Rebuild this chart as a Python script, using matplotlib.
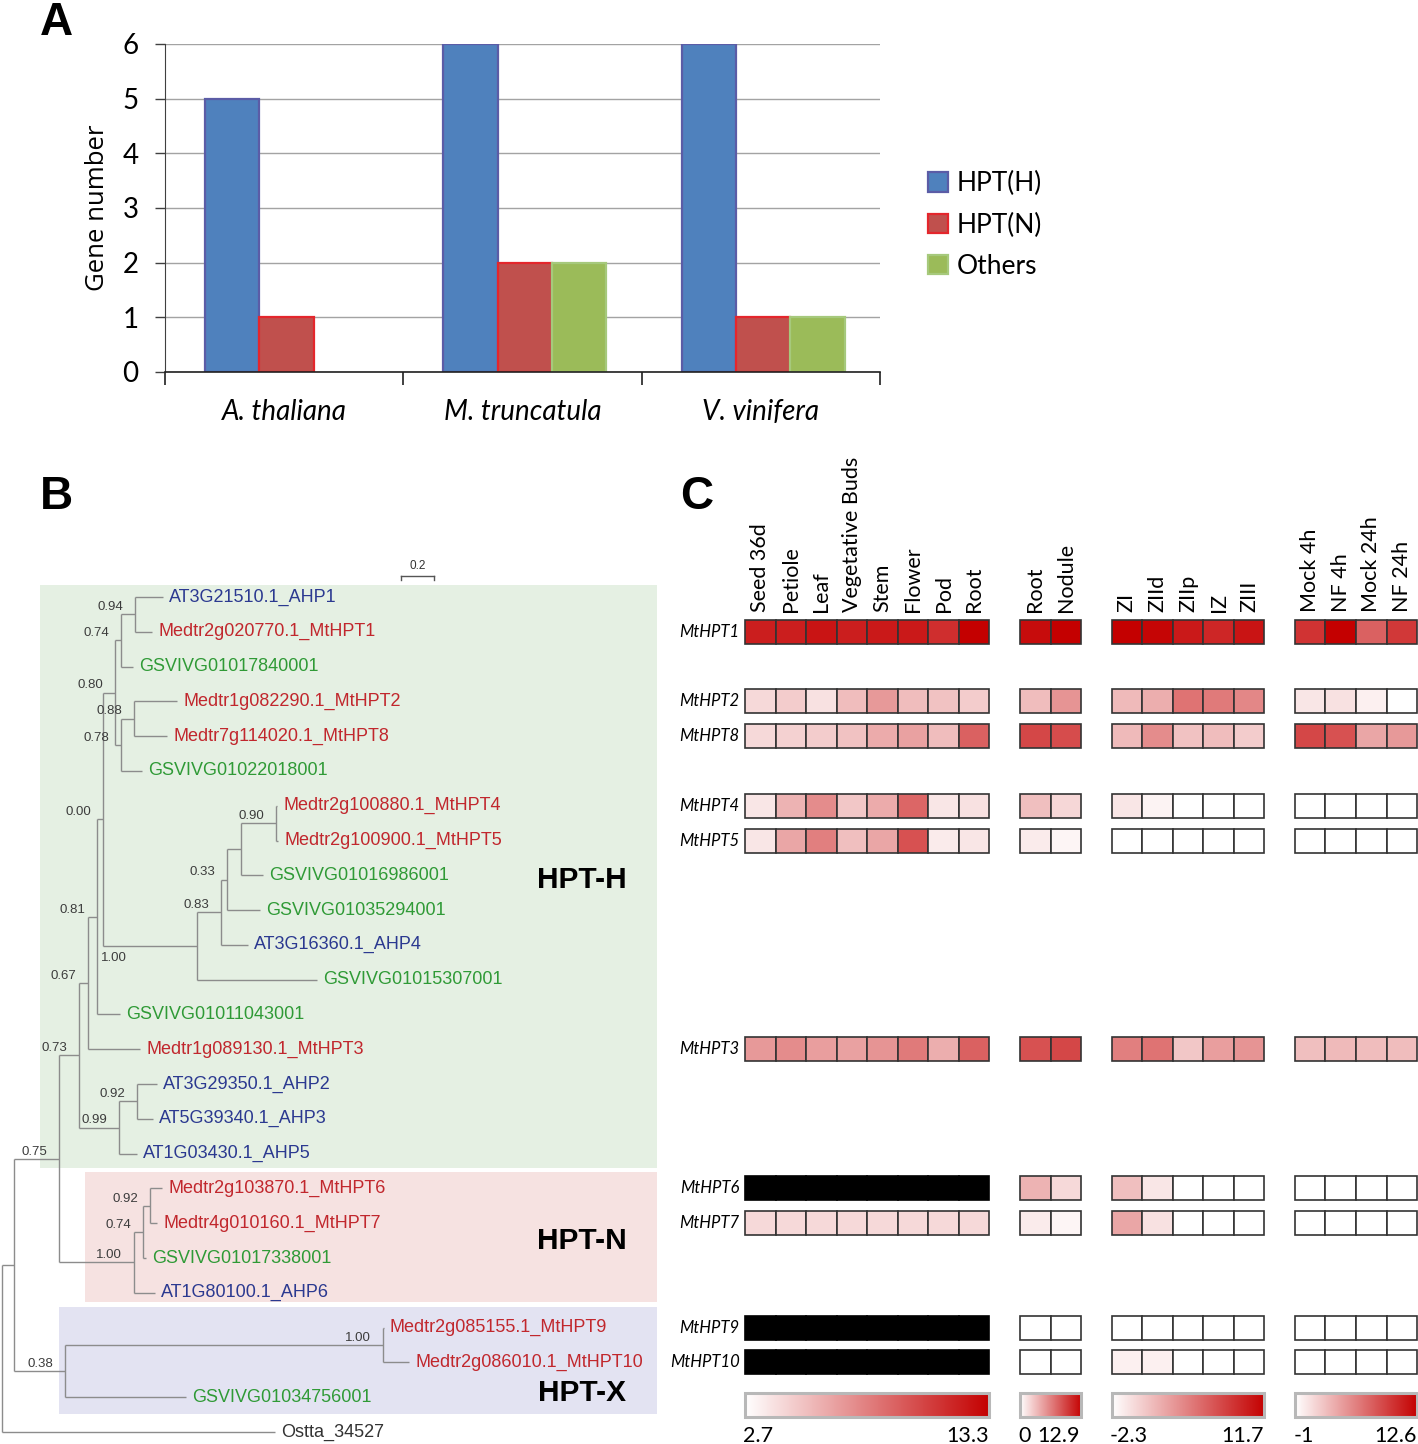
import numpy as np
import matplotlib
matplotlib.use("Agg")
import matplotlib.pyplot as plt
from matplotlib.colors import LinearSegmentedColormap
from matplotlib.patches import Rectangle

# ------------------------------------------------------------------ data
# Panel A
species = ["A. thaliana", "M. truncatula", "V. vinifera"]
hpt_h = [5, 6, 6]
hpt_n = [1, 2, 1]
others = [0, 2, 1]

# Panel B : phylogeny (Newick, branch lengths + support values)
tree_newick = (
    "((((((((((AT3G21510.1_AHP1:0.170,Medtr2g020770.1_MtHPT1:0.103)0.94:0.085,"
    "GSVIVG01017840001:0.073)0.74:0.036,"
    "((Medtr1g082290.1_MtHPT2:0.261,Medtr7g114020.1_MtHPT8:0.200)0.88:0.079,"
    "GSVIVG01022018001:0.127)0.78:0.036)0.80:0.073,"
    "(((((Medtr2g100880.1_MtHPT4:0.006,Medtr2g100900.1_MtHPT5:0.012)0.90:0.212,"
    "GSVIVG01016986001:0.133):0.085,GSVIVG01035294001:0.200)0.33:0.036,"
    "AT3G16360.1_AHP4:0.164)0.83:0.145,GSVIVG01015307001:0.727)1.00:0.570)0.00:0.036,"
    "GSVIVG01011043001:0.139)0.81:0.055,Medtr1g089130.1_MtHPT3:0.315)0.67:0.055,"
    "((AT3G29350.1_AHP2:0.121,AT5G39340.1_AHP3:0.097)0.92:0.109,"
    "AT1G03430.1_AHP5:0.109)0.99:0.242)0.73:0.121,"
    "(((Medtr2g103870.1_MtHPT6:0.073,Medtr4g010160.1_MtHPT7:0.042)0.92:0.042,"
    "GSVIVG01017338001:0.018)0.74:0.055,AT1G80100.1_AHP6:0.127)1.00:0.455)0.75:0.273,"
    "((Medtr2g085155.1_MtHPT9:0.006,Medtr2g086010.1_MtHPT10:0.158)1.00:1.927,"
    "GSVIVG01034756001:0.733)0.38:0.309):0.073,Ostta_34527:1.655);"
)
clade_names = ["HPT-H", "HPT-N", "HPT-X"]
clade_first_leaf = ["AT3G21510.1_AHP1", "Medtr2g103870.1_MtHPT6", "Medtr2g085155.1_MtHPT9"]
clade_last_leaf = ["AT1G03430.1_AHP5", "AT1G80100.1_AHP6", "GSVIVG01034756001"]

# Panel C : relative expression (0 = scale minimum, 1 = scale maximum, nan = no probe)
genes = ["MtHPT1", "MtHPT2", "MtHPT8", "MtHPT4", "MtHPT5",
         "MtHPT3", "MtHPT6", "MtHPT7", "MtHPT9", "MtHPT10"]
atlas_cols = ["Seed 36d", "Petiole", "Leaf", "Vegetative Buds", "Stem", "Flower", "Pod", "Root"]
nod_cols = ["Root", "Nodule"]
zone_cols = ["ZI", "ZIId", "ZIIp", "IZ", "ZIII"]
nf_cols = ["Mock 4h", "NF 4h", "Mock 24h", "NF 24h"]
nan = float("nan")
atlas_vals = [
    [0.88, 0.88, 0.92, 0.88, 0.90, 0.90, 0.82, 1.00],
    [0.15, 0.20, 0.12, 0.26, 0.40, 0.26, 0.24, 0.20],
    [0.15, 0.18, 0.20, 0.24, 0.33, 0.37, 0.26, 0.62],
    [0.10, 0.30, 0.45, 0.22, 0.33, 0.60, 0.10, 0.12],
    [0.10, 0.35, 0.50, 0.25, 0.35, 0.68, 0.08, 0.10],
    [0.40, 0.45, 0.38, 0.37, 0.42, 0.52, 0.32, 0.62],
    [nan] * 8,
    [0.15, 0.15, 0.15, 0.15, 0.15, 0.15, 0.15, 0.15],
    [nan] * 8,
    [nan] * 8,
]
nod_vals = [
    [0.95, 1.00], [0.26, 0.42], [0.72, 0.70], [0.25, 0.16], [0.08, 0.04],
    [0.68, 0.72], [0.30, 0.15], [0.08, 0.04], [0.00, 0.00], [0.00, 0.00],
]
zone_vals = [
    [1.00, 0.98, 0.90, 0.85, 0.92],
    [0.27, 0.32, 0.55, 0.52, 0.47],
    [0.27, 0.45, 0.24, 0.26, 0.20],
    [0.10, 0.05, 0.00, 0.00, 0.00],
    [0.00, 0.00, 0.00, 0.00, 0.00],
    [0.50, 0.55, 0.22, 0.38, 0.42],
    [0.25, 0.10, 0.00, 0.00, 0.00],
    [0.35, 0.12, 0.00, 0.00, 0.00],
    [0.00, 0.00, 0.00, 0.00, 0.00],
    [0.06, 0.06, 0.00, 0.00, 0.00],
]
nf_vals = [
    [0.80, 1.00, 0.62, 0.78],
    [0.10, 0.12, 0.06, 0.00],
    [0.72, 0.68, 0.35, 0.40],
    [0.00, 0.00, 0.00, 0.00],
    [0.00, 0.00, 0.00, 0.00],
    [0.25, 0.27, 0.26, 0.26],
    [0.00, 0.00, 0.00, 0.00],
    [0.00, 0.00, 0.00, 0.00],
    [0.00, 0.00, 0.00, 0.00],
    [0.00, 0.00, 0.00, 0.00],
]
scale_min = ["2.7", "0", "-2.3", "-1"]
scale_max = ["13.3", "12.9", "11.7", "12.6"]

# ------------------------------------------------------------------ figure
W, H = 1418, 1444
fig = plt.figure(figsize=(W / 100, H / 100), dpi=100)


def px_axes(x0, y0, x1, y1):
    return fig.add_axes([x0 / W, 1 - y1 / H, (x1 - x0) / W, (y1 - y0) / H])


SANS = ["Lato", "DejaVu Sans"]
ARIAL = ["Liberation Sans", "DejaVu Sans"]

# ================================================================ Panel A
axA = px_axes(165, 44, 880, 372)
x = np.arange(len(species))
series = [("HPT(H)", hpt_h, "#4f81bd", "#5b5ca6"),
          ("HPT(N)", hpt_n, "#c0504d", "#e4262c"),
          ("Others", others, "#9bbb59", "#a6c97c")]
offsets = [-0.218, 0.010, 0.238]
handles = []
for (name, vals, fc, ec), off in zip(series, offsets):
    vals = np.asarray(vals, float)
    keep = vals > 0
    b = axA.bar(x[keep] + off, vals[keep], 0.228, color=fc, edgecolor=ec,
                linewidth=1.6, zorder=3, label=name)
    handles.append(b)
axA.set_xlim(-0.5, 2.5)
axA.set_ylim(0, 6)
axA.set_yticks(range(0, 7))
axA.yaxis.grid(True, color="#a3a3a3", lw=1.0, zorder=0)
axA.set_axisbelow(True)
for s in ["top", "right"]:
    axA.spines[s].set_visible(False)
axA.spines["left"].set_color("#404040")
axA.spines["bottom"].set_color("#202020")
axA.spines["bottom"].set_linewidth(1.2)
axA.spines["bottom"].set_zorder(5)
axA.set_xticks([-0.5, 0.5, 1.5, 2.5])
axA.set_xticklabels([])
axA.set_xticks(x, minor=True)
axA.set_xticklabels(species, minor=True, fontsize=20, style="italic", family=SANS)
axA.tick_params(axis="x", which="major", length=9, width=1.2, direction="out", color="#202020")
axA.tick_params(axis="x", which="minor", length=0, pad=19.5)
axA.tick_params(axis="y", length=7, width=1.0, color="#404040", pad=12, labelsize=20)
for t in axA.get_yticklabels():
    t.set_family(SANS)
axA.set_ylabel("Gene number", fontsize=18.5, family=["Open Sans", "DejaVu Sans"])
axA.yaxis.set_label_coords(-0.077, 0.5)

fig.legend(handles, [s[0] for s in series], loc="upper left",
           bbox_to_anchor=(928 / W, 1 - 171 / H), frameon=False,
           prop={"family": SANS, "size": 19}, handlelength=0.75, handleheight=0.75,
           handletextpad=0.35, labelspacing=0.62, borderpad=0, borderaxespad=0)

# ================================================================ Panel B
def parse_newick(s):
    s = s.strip().rstrip(";")
    pos = 0

    def node():
        nonlocal pos
        kids = []
        if s[pos] == "(":
            pos += 1
            while True:
                kids.append(node())
                if s[pos] == ",":
                    pos += 1
                    continue
                pos += 1
                break
        st = pos
        while pos < len(s) and s[pos] not in ":,)":
            pos += 1
        name = s[st:pos]
        ln = 0.0
        if pos < len(s) and s[pos] == ":":
            pos += 1
            st = pos
            while pos < len(s) and s[pos] not in ",)":
                pos += 1
            ln = float(s[st:pos])
        return {"name": name, "len": ln, "children": kids}

    return node()


root = parse_newick(tree_newick)
leaves = []


def layout(nd, x0):
    nd["x"] = x0 + nd["len"]
    nd["px"] = x0
    if nd["children"]:
        for c in nd["children"]:
            layout(c, nd["x"])
        nd["y"] = (nd["children"][0]["y"] + nd["children"][-1]["y"]) / 2
        nd["first"] = nd["children"][0].get("first", nd["children"][0]["name"])
        nd["last"] = nd["children"][-1].get("last", nd["children"][-1]["name"])
    else:
        nd["y"] = float(len(leaves))
        leaves.append(nd)


layout(root, 0.0)
leaf_y = {lf["name"]: lf["y"] for lf in leaves}

PXU = 165.0    # pixels per branch-length unit
PXR = 34.79    # pixels per leaf row
YLIM = ((1444 - 597) / PXR, (440 - 597) / PXR)

axB = px_axes(0, 440, 660, 1444)
axB.set_xlim(-2 / PXU, 658 / PXU)
axB.set_ylim(*YLIM)
axB.axis("off")

box_left = [0.230, 0.503, 0.345]
box_pad_top = [0.35, 0.47, 0.59]
box_pad_bot = [0.41, 0.26, 0.48]
box_colors = ["#e5f0e3", "#f6e2e1", "#e3e3f2"]
for f, l, xl, pt, pb, col in zip(clade_first_leaf, clade_last_leaf, box_left,
                                 box_pad_top, box_pad_bot, box_colors):
    y0 = leaf_y[f] - pt
    y1 = leaf_y[l] + pb
    axB.add_patch(Rectangle((xl, y0), 3.97 - xl, y1 - y0, facecolor=col,
                            edgecolor="none", zorder=0))
clade_label_rows = [8.13, 18.51, 22.88]
for name, yy in zip(clade_names, clade_label_rows):
    axB.text(3.515, yy, name, ha="center", va="center", fontsize=21.5,
             fontweight="bold", family=ARIAL, color="black", zorder=4)

LINE = "#8c8c8c"
support_below = {("Medtr2g100880.1_MtHPT4", "GSVIVG01015307001")}


def leaf_color(n):
    if n.startswith("AT"):
        return "#2b3990"
    if n.startswith("Medtr"):
        return "#c1272d"
    if n.startswith("GSVIVG"):
        return "#2f9a36"
    return "#333333"


def draw(nd, is_root=False):
    if not is_root:
        axB.plot([nd["px"], nd["x"]], [nd["y"], nd["y"]], color=LINE, lw=1.0,
                 solid_capstyle="butt", zorder=2)
    if nd["children"]:
        axB.plot([nd["x"], nd["x"]], [nd["children"][0]["y"], nd["children"][-1]["y"]],
                 color=LINE, lw=1.0, solid_capstyle="butt", zorder=2)
        for c in nd["children"]:
            draw(c)
        if nd["name"]:
            if (nd["first"], nd["last"]) in support_below:
                axB.text(nd["px"] + 24 / PXU, nd["y"] + 0.34, nd["name"], ha="right",
                         va="center", fontsize=9.5, family=ARIAL, color="#3c3c3c", zorder=3)
            else:
                axB.text(nd["x"] - 12 / PXU, nd["y"] - 0.21, nd["name"], ha="right",
                         va="center", fontsize=9.5, family=ARIAL, color="#3c3c3c", zorder=3)
    else:
        axB.text(nd["x"] + 6 / PXU, nd["y"], nd["name"], ha="left", va="center",
                 fontsize=13, family=ARIAL, color=leaf_color(nd["name"]), zorder=3)


draw(root, is_root=True)

# scale bar
sb_x = (401 - 2) / PXU
sb_y = (576 - 597) / PXR
axB.plot([sb_x, sb_x + 0.2], [sb_y, sb_y], color="#555555", lw=1.0)
for xx in (sb_x, sb_x + 0.2):
    axB.plot([xx, xx], [sb_y, sb_y + 0.12], color="#555555", lw=1.0)
axB.text(sb_x + 0.1, sb_y - 0.12, "0.2", ha="center", va="bottom", fontsize=8.5,
         family=ARIAL, color="#333333")

# ================================================================ Panel C
CW = 30.55
axC = px_axes(670, 440, 1418, 1444)
cmap = LinearSegmentedColormap.from_list("wr", ["#ffffff", "#c40000"])

groups = [(atlas_cols, atlas_vals), (nod_cols, nod_vals), (zone_cols, zone_vals), (nf_cols, nf_vals)]
row_h = 24 / PXR
starts = []
col0 = 0
for cols, _ in groups:
    starts.append(col0)
    col0 += len(cols) + 1

gene_rows = [next(lf["y"] for lf in leaves if lf["name"].split("_")[-1] == g) for g in genes]

for (cols, vals), st in zip(groups, starts):
    for gi, yy in enumerate(gene_rows):
        v = np.asarray(vals[gi], float)
        xs = st + np.arange(len(cols)) + 0.5
        fc = [("black" if np.isnan(vv) else cmap(vv)) for vv in v]
        ec = "black" if np.all(np.isnan(v)) else "#333333"
        axC.bar(xs, row_h, bottom=yy - row_h / 2, width=1.0, color=fc,
                edgecolor=ec, linewidth=1.2, zorder=2)
    for j, c in enumerate(cols):
        axC.text(st + j + 0.5, (612 - 597) / PXR, c, rotation=90, ha="center",
                 va="bottom", fontsize=15.5, family=SANS, color="black")

for g, yy in zip(genes, gene_rows):
    axC.text(-0.17, yy, g, ha="right", va="center", fontsize=12, style="italic",
             family=SANS, color="black")

# colour scales
grad = np.linspace(0, 1, 256)[None, :]
cb_top = (1393 - 597) / PXR
cb_bot = (1417 - 597) / PXR
lab_y = (1436 - 597) / PXR
for (cols, _), st, lo, hi in zip(groups, starts, scale_min, scale_max):
    x0, x1 = st, st + len(cols)
    axC.imshow(grad, cmap=cmap, extent=(x0, x1, cb_bot, cb_top), aspect="auto",
               interpolation="bilinear", zorder=2)
    axC.add_patch(Rectangle((x0, cb_top), x1 - x0, cb_bot - cb_top, facecolor="none",
                            edgecolor="#b8b8b8", linewidth=2.2, zorder=3))
    axC.text(x0 - 0.05, lab_y, lo, ha="left", va="center", fontsize=15.5, family=SANS)
    axC.text(x1 - 0.03, lab_y, hi, ha="right", va="center", fontsize=15.5, family=SANS)

axC.set_xlim((670 - 745) / CW, (1418 - 745) / CW)
axC.set_ylim(*YLIM)
axC.axis("off")

# panel letters
for letter, px, py in [("A", 40, 35), ("B", 40, 509), ("C", 680, 509)]:
    fig.text(px / W, 1 - py / H, letter, fontsize=33, fontweight="bold",
             family=ARIAL, ha="left", va="baseline")

fig.savefig("out.png", dpi=100)
